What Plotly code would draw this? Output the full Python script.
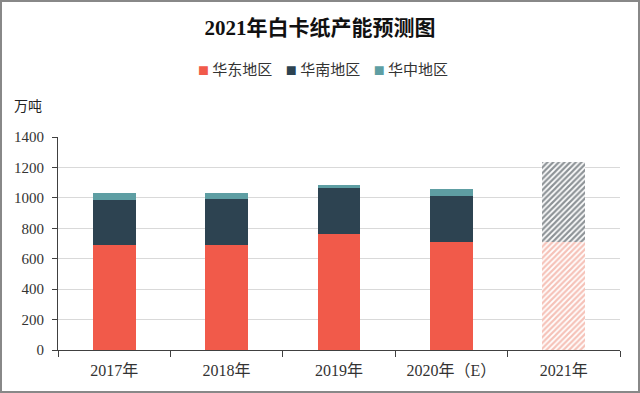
import plotly.graph_objects as go

categories = ["2017年", "2018年", "2019年", "2020年（E）", "2021年"]
east = [690, 690, 762, 712, 710]
south = [298, 300, 300, 300, 528]
central = [45, 43, 22, 44, 0]
series_names = ["华东地区", "华南地区", "华中地区"]
y_ticks = [0, 200, 400, 600, 800, 1000, 1200, 1400]
is_forecast = [False, False, False, False, True]

colors = ["#F15A4A", "#2D4351", "#5E9EA3"]
hatch_colors = ["#EC8572", "#1B262E", "#5E9EA3"]

fig = go.Figure()
for name, vals, col in zip(series_names, [east, south, central], colors):
    fig.add_trace(go.Bar(
        x=categories, y=[None if f else v for v, f in zip(vals, is_forecast)],
        name=name, marker=dict(color=col, line=dict(width=0)), width=0.38, showlegend=False,
    ))
for name, vals, hcol in zip(series_names, [east, south, central], hatch_colors):
    fig.add_trace(go.Bar(
        x=categories, y=[v if f and v else None for v, f in zip(vals, is_forecast)],
        name=name + "（预测）", showlegend=False, width=0.38,
        marker=dict(color="white", line=dict(width=0),
                    pattern=dict(shape="/", fgcolor=hcol, bgcolor="white", size=4, solidity=0.55,
                                 fillmode="overlay")),
    ))

# legend drawn as a text line with coloured squares
legend_text = "&nbsp;&nbsp;&nbsp;&nbsp;".join(
    f"<span style='color:{c};font-size:11px'>■</span> {n}" for n, c in zip(series_names, colors)
)

fig.update_layout(
    width=640, height=393,
    barmode="stack",
    margin=dict(l=58, r=20, t=137, b=43),
    paper_bgcolor="white", plot_bgcolor="white",
    title=dict(text="2021年白卡纸产能预测图", x=0.5, xanchor="center", y=1 - 28 / 393, yanchor="middle",
               font=dict(family="Liberation Serif, Noto Sans CJK SC", size=21, color="#111111", weight="bold")),
    font=dict(family="Liberation Serif, Noto Sans CJK SC", size=14, color="#333333"),
    showlegend=False,
)
fig.update_yaxes(range=[0, 1400], tickvals=y_ticks, showgrid=True, gridcolor="#D9D9D9", gridwidth=1,
                 showline=True, linecolor="#404040", linewidth=1, ticks="outside", ticklen=5,
                 tickcolor="#404040", zeroline=False, ticklabelstandoff=5,
                 tickfont=dict(family="Liberation Serif", size=15, color="#333333"))
fig.update_xaxes(showline=True, linecolor="#404040", linewidth=1, ticks="outside", tickson="boundaries",
                 ticklen=6, tickcolor="#404040", ticklabelstandoff=6,
                 tickfont=dict(family="Liberation Serif, Noto Sans CJK SC", size=16, color="#333333"))
fig.add_annotation(text=legend_text, xref="paper", yref="paper", x=(323 - 58) / 562, y=(350 - 68) / 213,
                   xanchor="center", yanchor="middle", showarrow=False,
                   font=dict(family="Noto Sans CJK SC", size=15, color="#333333"))
fig.add_annotation(text="万吨", xref="paper", yref="paper", x=-46 / 562, y=(350 - 105) / 213,
                   xanchor="left", yanchor="middle", showarrow=False,
                   font=dict(family="Noto Sans CJK SC", size=14, color="#222222"))
fig.add_shape(type="rect", xref="paper", yref="paper", x0=-57 / 562, x1=581 / 562, y0=-42 / 213, y1=349 / 213,
              line=dict(color="#888888", width=2), fillcolor="rgba(0,0,0,0)", layer="below")

fig.write_html("out.html", config={"displayModeBar": False},
               post_script="document.body.style.margin='0';")
